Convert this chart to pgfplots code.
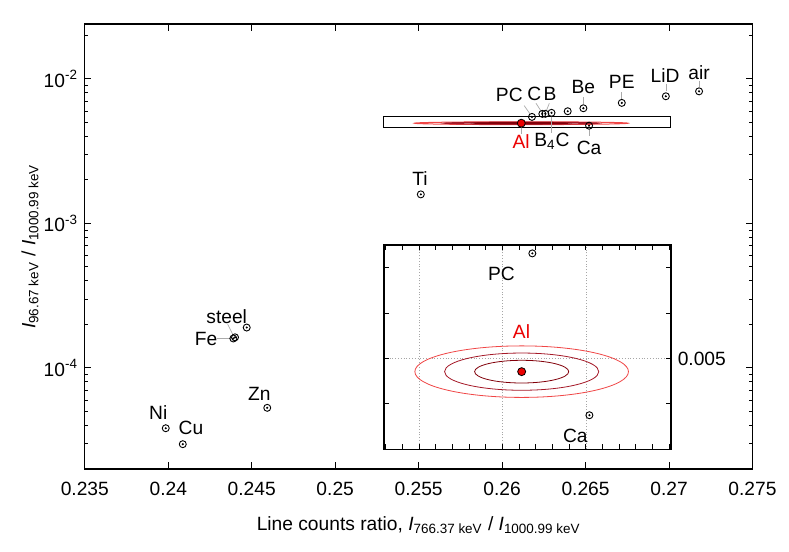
\documentclass[border=0pt]{standalone}
\usepackage{fontspec}
\setmainfont{Liberation Sans}
\usepackage{pgfplots}
\pgfplotsset{compat=1.18}
\usepackage{pgfplotstable}
\definecolor{ellin}{RGB}{130,0,10}
\definecolor{ellmid}{RGB}{165,25,40}
\definecolor{ellout}{RGB}{240,70,70}
\definecolor{alred}{RGB}{235,0,0}
\definecolor{leader}{RGB}{170,170,170}

% line ratios of the samples (Al plotted separately)
\pgfplotstableread{
x        y
0.27180  0.00821
0.26981  0.00759
0.26717  0.00683
0.26487  0.00627
0.26393  0.00598
0.26296  0.00583
0.26259  0.00574
0.26241  0.005735
0.26179  0.005463
0.26521  0.00475
0.25513  0.00159
0.24470  1.905e-4
0.24390  1.60e-4
0.24400  1.63e-4
0.24593  5.30e-5
0.23985  3.83e-5
0.24087  2.97e-5
}\samples

\tikzset{
  lbl/.style={inner sep=0pt, anchor=center},
  ldr/.style={draw=leader, line width=0.35pt},
}

\begin{document}
\fontsize{9.6}{11.5}\selectfont
\begin{tikzpicture}
\useasboundingbox (-42.4pt,-41.5pt) rectangle (352.1pt,234.5pt);
\begin{axis}[
  at={(0pt,0pt)}, anchor=south west,
  scale only axis, width=333.85pt, height=222.5pt,
  xmin=0.235, xmax=0.275,
  ymode=log, ymin=2e-5, ymax=0.024,
  xtick={0.235,0.24,0.245,0.25,0.255,0.26,0.265,0.27,0.275},
  xticklabels={0.235,0.24,0.245,0.25,0.255,0.26,0.265,0.27,0.275},
  ytick={1e-4,1e-3,1e-2},
  yticklabels={10\textsuperscript{-4},10\textsuperscript{-3},10\textsuperscript{-2}},
  minor ytick={2e-5,3e-5,4e-5,5e-5,6e-5,7e-5,8e-5,9e-5,
               2e-4,3e-4,4e-4,5e-4,6e-4,7e-4,8e-4,9e-4,
               2e-3,3e-3,4e-3,5e-3,6e-3,7e-3,8e-3,9e-3,2e-2},
  tick align=inside, major tick length=3.3pt, minor tick length=1.7pt,
  tick style={black, line width=0.5pt},
  axis line style={line width=0.6pt},
  xticklabel style={yshift=-3pt},
  xlabel style={yshift=-4pt},
  ylabel style={yshift=-4pt},
  xlabel={Line counts ratio, \textit{I}\textsubscript{766.37 keV} / \textit{I}\textsubscript{1000.99 keV}},
  ylabel={\textit{I}\textsubscript{96.67 keV} / \textit{I}\textsubscript{1000.99 keV}},
]
\draw[line width=0.45pt] (axis cs:0.2529,0.0046) rectangle (axis cs:0.2701,0.0055);
\draw[ellout, line width=0.5pt] (axis cs:0.26115,0.004942) ellipse [x radius=53.4pt, y radius=0.71pt];
\draw[ellmid, line width=0.5pt] (axis cs:0.26115,0.004942) ellipse [x radius=38.55pt, y radius=0.52pt];
\draw[ellin, line width=0.5pt] (axis cs:0.26115,0.004942) ellipse [x radius=23.5pt, y radius=0.31pt];

% leader lines
\draw[ldr] (axis cs:0.26132,0.006543) -- (axis cs:0.26167,0.005735);
\draw[ldr] (axis cs:0.26203,0.006786) -- (axis cs:0.26238,0.005886);
\draw[ldr] (axis cs:0.26283,0.006786) -- (axis cs:0.26263,0.005951);
\draw[ldr] (axis cs:0.26295,0.005582) -- (axis cs:0.26295,0.004215);
\draw[ldr] (axis cs:0.26115,0.004637) -- (axis cs:0.26115,0.004129);
\draw[ldr] (axis cs:0.26523,0.004520) -- (axis cs:0.26523,0.004000);
\draw[ldr] (axis cs:0.26487,0.007464) -- (axis cs:0.26487,0.006725);
\draw[ldr] (axis cs:0.26717,0.008084) -- (axis cs:0.26717,0.007279);
\draw[ldr] (axis cs:0.26981,0.009237) -- (axis cs:0.26981,0.008212);
\draw[ldr] (axis cs:0.27182,0.009734) -- (axis cs:0.27182,0.008749);
\draw[ldr] (axis cs:0.24356,2.01e-4) -- (axis cs:0.24390,1.678e-4);
\draw[ldr] (axis cs:0.24294,1.60e-4) -- (axis cs:0.24380,1.60e-4);

\addplot[only marks, mark=o, mark size=1.75pt, mark options={line width=0.45pt}]
  table[x=x, y=y] {\samples};
\addplot[only marks, mark=*, mark size=0.3pt] table[x=x, y=y] {\samples};
\addplot[only marks, mark=*, mark size=2pt, mark options={fill=alred, draw=black, line width=0.4pt}]
  coordinates {(0.26115,0.004942)};

\node[lbl] at (axis cs:0.26043,0.007757) {PC};
\node[lbl] at (axis cs:0.26193,0.00788) {C};
\node[lbl] at (axis cs:0.26287,0.00788) {B};
\node[lbl] at (axis cs:0.26487,0.008749) {Be};
\node[lbl] at (axis cs:0.26717,0.00958) {PE};
\node[lbl] at (axis cs:0.26976,0.01054) {LiD};
\node[lbl] at (axis cs:0.27180,0.01105) {air};
\node[lbl, text=alred] at (axis cs:0.26114,0.003695) {Al};
\node[lbl] at (axis cs:0.26298,0.003695) {B\textsubscript{4}C};
\node[lbl] at (axis cs:0.26521,0.003342) {Ca};
\node[lbl] at (axis cs:0.25508,0.002053) {Ti};
\node[lbl] at (axis cs:0.24350,2.27e-4) {steel};
\node[lbl] at (axis cs:0.24226,1.585e-4) {Fe};
\node[lbl] at (axis cs:0.24546,6.65e-5) {Zn};
\node[lbl] at (axis cs:0.23940,4.895e-5) {Ni};
\node[lbl] at (axis cs:0.24136,3.857e-5) {Cu};
\end{axis}

% zoomed inset of the boxed region
\begin{axis}[
  at={(149.6pt,9.85pt)}, anchor=south west,
  scale only axis, width=143.5pt, height=102.15pt,
  xmin=0.2529, xmax=0.2701, ymin=0.0046, ymax=0.0055,
  axis background/.style={fill=white},
  xtick={0.255,0.26,0.265}, xticklabels={},
  minor xtick={0.253,0.254,0.256,0.257,0.258,0.259,0.261,0.262,0.263,0.264,0.266,0.267,0.268,0.269,0.270},
  ytick={0.005}, yticklabels={0.005},
  minor ytick={0.0048,0.0052,0.0054},
  yticklabel pos=right, scaled ticks=false,
  grid=major, major grid style={densely dotted, gray!70, line width=0.4pt},
  tick align=inside, major tick length=2.6pt, minor tick length=2.6pt,
  tick style={black, line width=0.5pt},
  axis line style={line width=0.6pt},
]
\draw[ellout, line width=0.4pt] (axis cs:0.26115,0.004942) ellipse [x radius=0.0064, y radius=0.0001135];
\draw[ellmid, line width=0.4pt] (axis cs:0.26115,0.004942) ellipse [x radius=0.00462, y radius=0.000082];
\draw[ellin, line width=0.4pt] (axis cs:0.26115,0.004942) ellipse [x radius=0.00282, y radius=0.00005];
\addplot[only marks, mark=o, mark size=1.75pt, mark options={line width=0.45pt}]
  table[x=x, y=y] {\samples};
\addplot[only marks, mark=*, mark size=0.3pt] table[x=x, y=y] {\samples};
\addplot[only marks, mark=*, mark size=2pt, mark options={fill=alred, draw=black, line width=0.4pt}]
  coordinates {(0.26115,0.004942)};
\node[lbl] at (axis cs:0.25994,0.005374) {PC};
\node[lbl, text=alred] at (axis cs:0.26114,0.005119) {Al};
\node[lbl] at (axis cs:0.26437,0.00466) {Ca};
\end{axis}
\end{tikzpicture}
\end{document}
